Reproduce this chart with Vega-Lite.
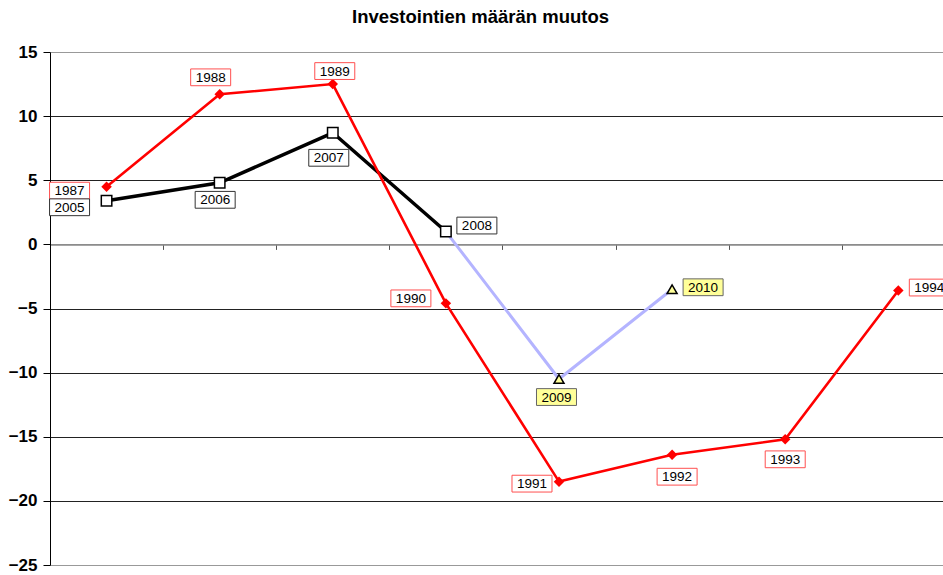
{
  "$schema": "https://vega.github.io/schema/vega-lite/v6.json",
  "autosize": "none",
  "width": 893,
  "height": 513,
  "padding": {"left": 50, "top": 52, "right": 0, "bottom": 10},
  "background": "white",
  "config": {"font": "Liberation Sans", "view": {"stroke": null}},
  "title": {"text": "Investointien määrän muutos", "font": "Liberation Sans", "fontSize": 18.5, "fontWeight": "bold", "color": "black", "anchor": "middle", "dx": -16, "frame": "group", "baseline": "alphabetic", "offset": 2},
  "data": {"values": [
    {"series": "1987–1994", "idx": 1, "label": "1987", "value": 4.5},
    {"series": "1987–1994", "idx": 2, "label": "1988", "value": 11.7},
    {"series": "1987–1994", "idx": 3, "label": "1989", "value": 12.5},
    {"series": "1987–1994", "idx": 4, "label": "1990", "value": -4.6},
    {"series": "1987–1994", "idx": 5, "label": "1991", "value": -18.5},
    {"series": "1987–1994", "idx": 6, "label": "1992", "value": -16.4},
    {"series": "1987–1994", "idx": 7, "label": "1993", "value": -15.2},
    {"series": "1987–1994", "idx": 8, "label": "1994", "value": -3.6},
    {"series": "2005–2008", "idx": 1, "label": "2005", "value": 3.4},
    {"series": "2005–2008", "idx": 2, "label": "2006", "value": 4.8},
    {"series": "2005–2008", "idx": 3, "label": "2007", "value": 8.7},
    {"series": "2005–2008", "idx": 4, "label": "2008", "value": 1.0},
    {"series": "2008–2010", "idx": 4, "label": "2008", "value": 1.0},
    {"series": "2008–2010", "idx": 5, "label": "2009", "value": -10.5},
    {"series": "2008–2010", "idx": 6, "label": "2010", "value": -3.5}
  ]},
  "encoding": {
    "x": {"field": "idx", "type": "quantitative", "scale": {"domain": [0.5, 8.395], "nice": false, "zero": false},
      "axis": {"title": null, "orient": "bottom", "offset": -320.6, "values": [0.5, 1.5, 2.5, 3.5, 4.5, 5.5, 6.5, 7.5], "labels": false, "tickSize": 5, "tickColor": "#555", "domainColor": "#888", "domainWidth": 1.5, "grid": false}},
    "y": {"field": "value", "type": "quantitative", "scale": {"domain": [-25, 15], "nice": false, "zero": false},
      "axis": {"title": null, "values": [-25, -20, -15, -10, -5, 0, 5, 10, 15], "labelFontSize": 17, "labelFontWeight": "bold", "labelColor": "black", "labelPadding": 6, "tickSize": 7, "tickColor": "black", "domainColor": "black", "domainWidth": 1, "grid": true, "gridWidth": 1.2,
        "gridColor": {"condition": {"test": "datum.value == 15 || datum.value == -25 || datum.value == 0", "value": "#999"}, "value": "#222"}}}
  },
  "layer": [
    {"transform": [{"filter": "datum.series == '2008–2010'"}], "mark": {"type": "line", "color": "#B4B4FF", "strokeWidth": 3}},
    {"transform": [{"filter": "datum.series == '2005–2008'"}], "mark": {"type": "line", "color": "black", "strokeWidth": 3.5}},
    {"transform": [{"filter": "datum.series == '1987–1994'"}], "mark": {"type": "line", "color": "#FF0000", "strokeWidth": 2.6}},
    {"transform": [{"filter": "datum.series == '1987–1994'"}], "mark": {"type": "point", "shape": "diamond", "size": 110, "filled": true, "color": "#FF0000", "opacity": 1}},
    {"transform": [{"filter": "datum.series == '2005–2008'"}], "mark": {"type": "point", "shape": "square", "size": 110, "filled": true, "fill": "white", "stroke": "black", "strokeWidth": 1.5, "opacity": 1}},
    {"transform": [{"filter": "datum.series == '2008–2010' && datum.label != '2008'"}], "mark": {"type": "point", "shape": "triangle-up", "size": 100, "filled": true, "fill": "#FFFF99", "stroke": "black", "strokeWidth": 1.5, "opacity": 1}},

    {"transform": [{"filter": "datum.series == '1987–1994' && datum.label == '1987'"}], "layer": [
      {"mark": {"type": "point", "shape": "M-1,-0.42H1V0.42H-1Z", "size": 1600, "filled": true, "fill": "white", "stroke": "#FF5050", "strokeWidth": 1, "opacity": 1, "xOffset": -37, "yOffset": 4}},
      {"mark": {"type": "text", "fontSize": 13.5, "color": "black", "xOffset": -37, "yOffset": 4.5}, "encoding": {"text": {"field": "label", "type": "nominal"}}}]},
    {"transform": [{"filter": "datum.series == '1987–1994' && datum.label == '1988'"}], "layer": [
      {"mark": {"type": "point", "shape": "M-1,-0.42H1V0.42H-1Z", "size": 1600, "filled": true, "fill": "white", "stroke": "#FF5050", "strokeWidth": 1, "opacity": 1, "xOffset": -9, "yOffset": -17}},
      {"mark": {"type": "text", "fontSize": 13.5, "color": "black", "xOffset": -9, "yOffset": -16.5}, "encoding": {"text": {"field": "label", "type": "nominal"}}}]},
    {"transform": [{"filter": "datum.series == '1987–1994' && datum.label == '1989'"}], "layer": [
      {"mark": {"type": "point", "shape": "M-1,-0.42H1V0.42H-1Z", "size": 1600, "filled": true, "fill": "white", "stroke": "#FF5050", "strokeWidth": 1, "opacity": 1, "xOffset": 2, "yOffset": -13}},
      {"mark": {"type": "text", "fontSize": 13.5, "color": "black", "xOffset": 2, "yOffset": -12.5}, "encoding": {"text": {"field": "label", "type": "nominal"}}}]},
    {"transform": [{"filter": "datum.series == '1987–1994' && datum.label == '1990'"}], "layer": [
      {"mark": {"type": "point", "shape": "M-1,-0.42H1V0.42H-1Z", "size": 1600, "filled": true, "fill": "white", "stroke": "#FF5050", "strokeWidth": 1, "opacity": 1, "xOffset": -35, "yOffset": -5}},
      {"mark": {"type": "text", "fontSize": 13.5, "color": "black", "xOffset": -35, "yOffset": -4.5}, "encoding": {"text": {"field": "label", "type": "nominal"}}}]},
    {"transform": [{"filter": "datum.series == '1987–1994' && datum.label == '1991'"}], "layer": [
      {"mark": {"type": "point", "shape": "M-1,-0.42H1V0.42H-1Z", "size": 1600, "filled": true, "fill": "white", "stroke": "#FF5050", "strokeWidth": 1, "opacity": 1, "xOffset": -27, "yOffset": 2}},
      {"mark": {"type": "text", "fontSize": 13.5, "color": "black", "xOffset": -27, "yOffset": 2.5}, "encoding": {"text": {"field": "label", "type": "nominal"}}}]},
    {"transform": [{"filter": "datum.series == '1987–1994' && datum.label == '1992'"}], "layer": [
      {"mark": {"type": "point", "shape": "M-1,-0.42H1V0.42H-1Z", "size": 1600, "filled": true, "fill": "white", "stroke": "#FF5050", "strokeWidth": 1, "opacity": 1, "xOffset": 5, "yOffset": 22}},
      {"mark": {"type": "text", "fontSize": 13.5, "color": "black", "xOffset": 5, "yOffset": 22.5}, "encoding": {"text": {"field": "label", "type": "nominal"}}}]},
    {"transform": [{"filter": "datum.series == '1987–1994' && datum.label == '1993'"}], "layer": [
      {"mark": {"type": "point", "shape": "M-1,-0.42H1V0.42H-1Z", "size": 1600, "filled": true, "fill": "white", "stroke": "#FF5050", "strokeWidth": 1, "opacity": 1, "xOffset": 0, "yOffset": 20}},
      {"mark": {"type": "text", "fontSize": 13.5, "color": "black", "xOffset": 0, "yOffset": 20.5}, "encoding": {"text": {"field": "label", "type": "nominal"}}}]},
    {"transform": [{"filter": "datum.series == '1987–1994' && datum.label == '1994'"}], "layer": [
      {"mark": {"type": "point", "shape": "M-1,-0.42H1V0.42H-1Z", "size": 1600, "filled": true, "fill": "white", "stroke": "#FF5050", "strokeWidth": 1, "opacity": 1, "xOffset": 31, "yOffset": -3}},
      {"mark": {"type": "text", "fontSize": 13.5, "color": "black", "xOffset": 31, "yOffset": -2.5}, "encoding": {"text": {"field": "label", "type": "nominal"}}}]},
    {"transform": [{"filter": "datum.series == '2005–2008' && datum.label == '2005'"}], "layer": [
      {"mark": {"type": "point", "shape": "M-1,-0.42H1V0.42H-1Z", "size": 1600, "filled": true, "fill": "white", "stroke": "#333", "strokeWidth": 1, "opacity": 1, "xOffset": -37, "yOffset": 6.5}},
      {"mark": {"type": "text", "fontSize": 13.5, "color": "black", "xOffset": -37, "yOffset": 7}, "encoding": {"text": {"field": "label", "type": "nominal"}}}]},
    {"transform": [{"filter": "datum.series == '2005–2008' && datum.label == '2006'"}], "layer": [
      {"mark": {"type": "point", "shape": "M-1,-0.42H1V0.42H-1Z", "size": 1600, "filled": true, "fill": "white", "stroke": "#333", "strokeWidth": 1, "opacity": 1, "xOffset": -4.5, "yOffset": 17}},
      {"mark": {"type": "text", "fontSize": 13.5, "color": "black", "xOffset": -4.5, "yOffset": 17.5}, "encoding": {"text": {"field": "label", "type": "nominal"}}}]},
    {"transform": [{"filter": "datum.series == '2005–2008' && datum.label == '2007'"}], "layer": [
      {"mark": {"type": "point", "shape": "M-1,-0.42H1V0.42H-1Z", "size": 1600, "filled": true, "fill": "white", "stroke": "#333", "strokeWidth": 1, "opacity": 1, "xOffset": -4, "yOffset": 25}},
      {"mark": {"type": "text", "fontSize": 13.5, "color": "black", "xOffset": -4, "yOffset": 25.5}, "encoding": {"text": {"field": "label", "type": "nominal"}}}]},
    {"transform": [{"filter": "datum.series == '2005–2008' && datum.label == '2008'"}], "layer": [
      {"mark": {"type": "point", "shape": "M-1,-0.42H1V0.42H-1Z", "size": 1600, "filled": true, "fill": "white", "stroke": "#333", "strokeWidth": 1, "opacity": 1, "xOffset": 31, "yOffset": -6}},
      {"mark": {"type": "text", "fontSize": 13.5, "color": "black", "xOffset": 31, "yOffset": -5.5}, "encoding": {"text": {"field": "label", "type": "nominal"}}}]},
    {"transform": [{"filter": "datum.series == '2008–2010' && datum.label == '2009'"}], "layer": [
      {"mark": {"type": "point", "shape": "M-1,-0.42H1V0.42H-1Z", "size": 1600, "filled": true, "fill": "#FFFF99", "stroke": "#666", "strokeWidth": 1, "opacity": 1, "xOffset": -2.5, "yOffset": 18}},
      {"mark": {"type": "text", "fontSize": 13.5, "color": "black", "xOffset": -2.5, "yOffset": 18.5}, "encoding": {"text": {"field": "label", "type": "nominal"}}}]},
    {"transform": [{"filter": "datum.series == '2008–2010' && datum.label == '2010'"}], "layer": [
      {"mark": {"type": "point", "shape": "M-1,-0.42H1V0.42H-1Z", "size": 1600, "filled": true, "fill": "#FFFF99", "stroke": "#666", "strokeWidth": 1, "opacity": 1, "xOffset": 31, "yOffset": -2}},
      {"mark": {"type": "text", "fontSize": 13.5, "color": "black", "xOffset": 31, "yOffset": -1.5}, "encoding": {"text": {"field": "label", "type": "nominal"}}}]}
  ]
}
